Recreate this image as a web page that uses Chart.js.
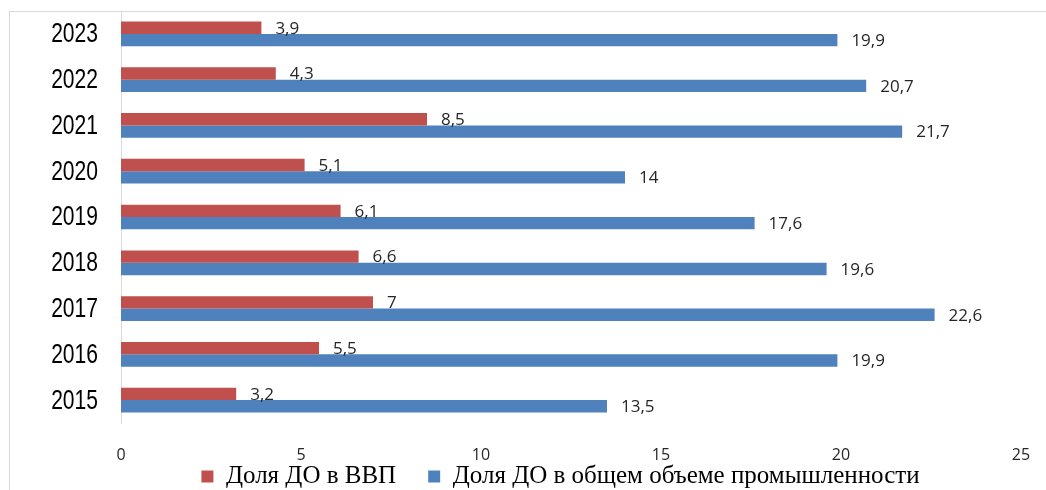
<!DOCTYPE html>
<html lang="ru">
<head>
<meta charset="UTF-8">
<title>Доля ДО</title>
<style>
    body { margin: 0; padding: 0; background: #fff; }
    .wrap { width: 1046px; height: 490px; position: relative; }
</style>
</head>
<body>
<div class="wrap"><canvas id="chart"></canvas></div>

<script src="https://cdn.jsdelivr.net/npm/chart.js"></script>
<script>
    // годы сверху вниз, как на рисунке
    const years = ['2023', '2022', '2021', '2020', '2019', '2018', '2017', '2016', '2015'];
    const gdpShare = [3.9, 4.3, 8.5, 5.1, 6.1, 6.6, 7, 5.5, 3.2];
    const industryShare = [19.9, 20.7, 21.7, 14, 17.6, 19.6, 22.6, 19.9, 13.5];
    const xTicks = [0, 5, 10, 15, 20, 25];

    const seriesNames = ['Доля ДО в ВВП', 'Доля ДО в общем объеме промышленности'];

    function fmt(v) {
        return String(v).replace('.', ',');
    }

    // рамка вокруг диаграммы
    const framePlugin = {
        id: 'frame',
        beforeDraw(chart) {
            const ctx = chart.ctx;
            ctx.save();
            ctx.strokeStyle = '#d9d9d9';
            ctx.lineWidth = 1;
            ctx.strokeRect(9.5, 11.5, 1100, 600);
            ctx.restore();
        }
    };

    // легенда стоит ниже и правее, чем по умолчанию;
    // подписи оси X заходят под легенду, поэтому расширяем их область
    const legendShift = {
        id: 'legendShift',
        afterLayout(chart) {
            const lg = chart.legend;
            lg.top += 9; lg.bottom += 9;
            lg.left += 50; lg.right += 50;
            chart.scales.x.bottom += 20;
        }
    };

    // годы: узкий шрифт, поэтому рисуем сами со сжатием по горизонтали
    const yearLabels = {
        id: 'yearLabels',
        afterDraw(chart) {
            const ctx = chart.ctx;
            const scale = chart.scales.y;
            ctx.save();
            ctx.font = '27px "Liberation Sans", Arial, sans-serif';
            ctx.fillStyle = '#000';
            ctx.textAlign = 'right';
            ctx.textBaseline = 'middle';
            scale.ticks.forEach((t, i) => {
                const y = scale.getPixelForTick(i);
                ctx.save();
                ctx.translate(98, y + 1);
                ctx.scale(0.78, 1);
                ctx.fillText(scale.getLabelForValue(t.value), 0, 0);
                ctx.restore();
            });
            ctx.restore();
        }
    };

    // подписи значений справа от столбцов
    const valueLabels = {
        id: 'valueLabels',
        afterDatasetsDraw(chart) {
            const ctx = chart.ctx;
            ctx.save();
            ctx.font = '17px "Open Sans", sans-serif';
            ctx.fillStyle = '#262626';
            ctx.textAlign = 'left';
            ctx.textBaseline = 'middle';
            chart.data.datasets.forEach((ds, i) => {
                chart.getDatasetMeta(i).data.forEach((bar, j) => {
                    ctx.fillText(fmt(ds.data[j]), bar.x + 14, bar.y + 1);
                });
            });
            ctx.restore();
        }
    };

    new Chart(document.getElementById('chart'), {
        type: 'bar',
        data: {
            labels: years,
            datasets: [
                { label: seriesNames[0], data: gdpShare, backgroundColor: '#c0504d', borderWidth: 0 },
                { label: seriesNames[1], data: industryShare, backgroundColor: '#4f81bd', borderWidth: 0 }
            ]
        },
        options: {
            indexAxis: 'y',
            responsive: true,
            maintainAspectRatio: false,
            animation: false,
            layout: { padding: { top: 11, right: 25, bottom: 0, left: 0 } },
            datasets: { bar: { categoryPercentage: 0.54, barPercentage: 1 } },
            plugins: {
                legend: {
                    position: 'bottom',
                    labels: {
                        font: { family: '"Liberation Serif", "Times New Roman", serif', size: 25, lineHeight: 1 },
                        color: '#000',
                        boxWidth: 12,
                        boxHeight: 12,
                        padding: 2,
                        generateLabels(chart) {
                            const items = Chart.defaults.plugins.legend.labels.generateLabels(chart);
                            // промежуток между элементами легенды
                            items[0].text = items[0].text + '\u2003\u2009';
                            return items;
                        }
                    }
                },
                tooltip: { enabled: false }
            },
            scales: {
                x: {
                    min: 0,
                    max: 25,
                    afterBuildTicks(scale) {
                        scale.ticks = xTicks.map(v => ({ value: v }));
                    },
                    afterFit(scale) {
                        scale.height = 30;
                        scale.paddingLeft = 0;
                        scale.paddingRight = 0;
                    },
                    grid: { display: false, drawTicks: false },
                    border: { display: false },
                    ticks: {
                        padding: 23,
                        color: '#262626',
                        font: { family: '"Open Sans", sans-serif', size: 16 }
                    }
                },
                y: {
                    afterFit(scale) {
                        scale.width = 121;
                        scale.paddingTop = 0;
                        scale.paddingBottom = 0;
                    },
                    grid: { display: false, drawTicks: false },
                    border: { display: true, color: '#d9d9d9', width: 1 },
                    ticks: { display: false }
                }
            }
        },
        plugins: [framePlugin, legendShift, yearLabels, valueLabels]
    });
</script>
</body>
</html>
